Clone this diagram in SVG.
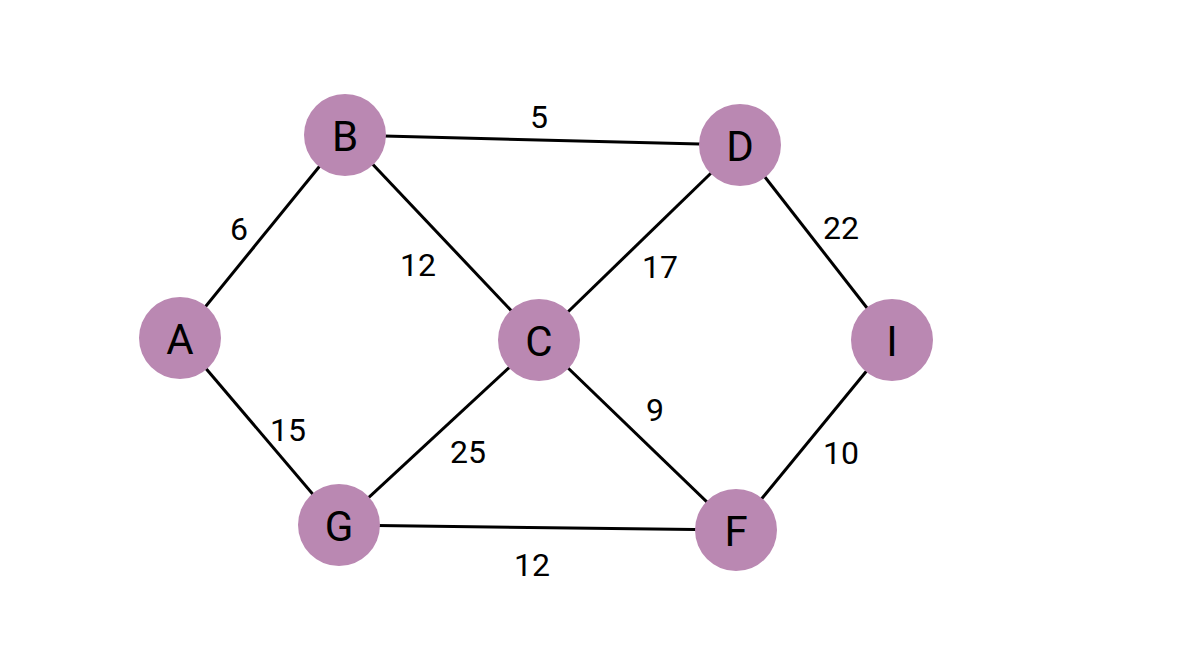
<svg xmlns="http://www.w3.org/2000/svg" width="1200" height="645" viewBox="0 0 1200 645">
<style>
.edge{stroke:#000;stroke-width:3;fill:none}
.node{fill:#BA88B2}
.nl{font-family:Roboto,"Liberation Sans",sans-serif;font-size:42px;fill:#000;text-anchor:middle;dominant-baseline:central}
.el{font-family:Roboto,"Liberation Sans",sans-serif;font-size:32px;fill:#000;text-anchor:middle;dominant-baseline:central}
</style>
<rect width="1200" height="645" fill="#fff"/>
<g id="connectors">
<line class="edge" x1="180" y1="338" x2="345" y2="135"/>
<line class="edge" x1="180" y1="338" x2="339" y2="525"/>
<line class="edge" x1="345" y1="135" x2="740" y2="145"/>
<line class="edge" x1="345" y1="135" x2="539" y2="340"/>
<line class="edge" x1="740" y1="145" x2="539" y2="340"/>
<line class="edge" x1="740" y1="145" x2="892" y2="340"/>
<line class="edge" x1="539" y1="340" x2="339" y2="525"/>
<line class="edge" x1="539" y1="340" x2="736" y2="530"/>
<line class="edge" x1="892" y1="340" x2="736" y2="530"/>
<line class="edge" x1="339" y1="525" x2="736" y2="530"/>
<text class="el" x="539" y="117">5</text>
<text class="el" x="239" y="229">6</text>
<text class="el" x="418" y="265">12</text>
<text class="el" x="660" y="267">17</text>
<text class="el" x="841" y="228">22</text>
<text class="el" x="288" y="430">15</text>
<text class="el" x="468" y="452">25</text>
<text class="el" x="655" y="410">9</text>
<text class="el" x="841" y="453">10</text>
<text class="el" x="532" y="565">12</text>
</g>
<g id="A"><circle class="node" cx="180" cy="338" r="41"/><text class="nl" x="180" y="339">A</text></g>
<g id="B"><circle class="node" cx="345" cy="135" r="41"/><text class="nl" x="345" y="136">B</text></g>
<g id="C"><circle class="node" cx="539" cy="340" r="41"/><text class="nl" x="539" y="341">C</text></g>
<g id="D"><circle class="node" cx="740" cy="145" r="41"/><text class="nl" x="740" y="146">D</text></g>
<g id="I"><circle class="node" cx="892" cy="340" r="41"/><text class="nl" x="892" y="341">I</text></g>
<g id="G"><circle class="node" cx="339" cy="525" r="41"/><text class="nl" x="339" y="526">G</text></g>
<g id="F"><circle class="node" cx="736" cy="530" r="41"/><text class="nl" x="736" y="531">F</text></g>
</svg>
